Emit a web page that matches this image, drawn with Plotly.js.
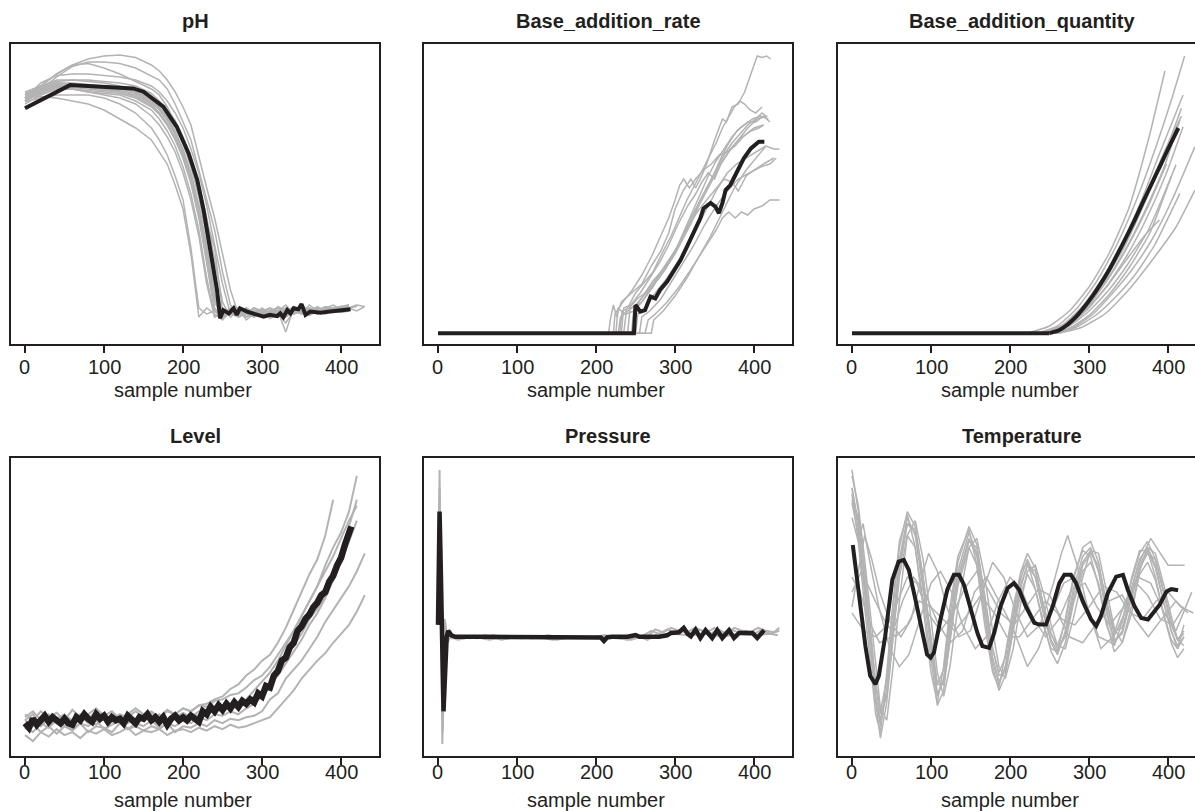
<!DOCTYPE html>
<html>
<head>
<meta charset="utf-8">
<script src="https://cdn.plot.ly/plotly-3.0.1.min.js"></script>
<style>html,body{margin:0;padding:0;overflow:hidden;background:#fff}</style>
</head>
<body>
<div id="chart" style="width:1215px;height:811px"></div>
<script>
// ---------- common ----------
const panelTitles = ['pH','Base_addition_rate','Base_addition_quantity','Level','Pressure','Temperature'];
const xTickVals = [0,100,200,300,400];
const xTickText = ['0','100','200','300','400'];
const xLabel = 'sample number';

// ---------- pH (relative units, 0 = bottom of panel, 100 = top) ----------
const phRef = [[0,78.6],[57,86.3],[137,85.2],[150,84.1],[175,79.1],[192,72.4],[207,63.6],[218,54.7],[226,44.7],[234,32.4],[243,18],[247,8.6],[251,11.3],[258,10.2],[264,11.9],[268,9.7],[272,11.9],[281,10.8],[294,9.7],[302,9.1],[310,9.7],[319,9.3],[323,10.2],[327,8.9],[332,11.3],[336,10.2],[340,11.9],[346,11.6],[350,13.3],[355,9.7],[361,10.8],[374,10.4],[386,10.8],[399,11.3],[412,11.6]];
const phGridX = [0,20,40,60,80,100,120,140,160,170,180,190,200,210,220,230,240,250,260,270,280,290,300,310,320,330,340,350,360,370,380,390,400,410,420,430];
const phBatches = [
 [82,86,90,93,95,96,96.3,95.5,93,91,88,84,79,73,62,52,42,30,18,10,11,9.5,10.5,12,9,10,11.5,12.5,10,11,10.5,11.5,11,12],
 [81,85,89,92.5,94,94,93.5,92,89.5,88,85,80,74,68,58,48,38,24,13,9,10.5,11,9,10,12,11,10,13,9.5,11,12,10.5,11.5,12,11,12.5],
 [82,86,90,93,93.5,92,90,87.5,85,83,79,74,68,62,52,41,32,11,10,12,9,10.5,11,8.5,10,12,11,10,11.5,12,10.5,11,12],
 [82.4,82.5,82,81,80,78,75,72,68,64,60,53,45,30,9,12,10,8,11,9.5,10,12,9,11,10,7,11,10.5,12,11,10,11.5,12,11],
 [80.8,82,83,83,83,82,80,77,72,68,63,56,48,32,12,10,11,9,10.5,12,8,10,11,9.5,11,13,10,11,10,12,11.5,11],
 [81,84,86,86.5,86,86,85.5,85,82,80,77,73,67,59,49,36,20,9,10,11,9,10,12,10,11,4,12,11,10,11.5,12,11,10.5,11],
 [83,85,86,85.5,85,84.5,84,83,80,77,73,68,62,54,43,28,12,9,10.5,12,10,9,11,10,12.5,11,10,13,11,10.5,12,11.5,12.5,13],
 [82,85,87,87,86.5,86,85.5,84,81,79,76,71,65,57,46,32,16,9,11,10,12,9.5,10,11,9,12,10,11,12,10,11,12,11.5,12,12.5],
 [84,86,87.5,88,87.5,87,86,84.5,81.5,79,75.5,71,64,55,43,28,11,9,10,12,10,9,11,12,10,9,12,11,10.5,11,12,11,11.5],
 [80,83,85,85,84,83.5,83,81,78,75,71,66,59,50,38,22,9,11,10,9,10.5,12,10,11,9,11.5,12,10,11,12,10.5,11,12],
 [82.5,84.5,86,86,85.5,85,85,84.5,82.5,80.5,78,74.5,69,62,53,42,28,14,9,11,10,12,9.5,11,10,12,11,13,10,11,12,11,12,13],
 [83,86,88,88,88,87.5,87,86,83.5,81,78,74,68,61,50,37,22,10,11,9,10,12,11,10,9,11,12,10.5,13,11,12,11,12.5,12,13,12.5],
 [81.5,84,85.5,85,84,83,82,80,76,73,69,64,57,48,36,20,9,10,12,11,9,10,11.5,10,12,9,11,10,11,12.5,11,12],
 [82,87,89.5,90,90,89.5,89,88,86,84,81,77,72,65,57,46,33,20,10,11,12,10,9.5,11,10,12,11,10.5,12,11,12,13,11.5,12,13],
 [82,85,86.5,86,85.5,85,84.5,83.5,80.5,78,74.5,70,63.5,55,44,30,14,9,11,10,12,10.5,9.5,11,12,10,11,12,10.5,11,12,11.5,12,12.5],
 [83.5,85.5,87,86.5,86,85.5,85,84,81,78.5,75,70.5,64.5,56.5,46,33,17,9,10.5,12,9,11,10,12,11,10,12.5,11,10,12,11,12,12.5,13],
 [81,83.5,85,85,84.5,84,83.5,82,79,76.5,73,68.5,62,53.5,42,27,11,9.5,11,10,12,9,10.5,11,12,10,11.5,12,11,10,12,11],
 [82,84.5,86,86,85.5,85,84,82.5,79.5,77,73.5,69,63,55,45,31,15,9,10,11.5,10,12,11,9.5,11,12,10.5,11,12,11,12.5,12,11.5]
];

// ---------- Base_addition_rate ----------
const barRef = [[0,3.6],[248,3.6],[250,13],[256,10.8],[262,11.3],[269,15.8],[275,15.2],[281,18],[290,20.8],[298,24],[307,28],[315,32.4],[324,37.4],[332,41.9],[336,45.2],[345,47],[351,45.8],[355.5,43.6],[360,47],[364,51.3],[370,53],[379,58],[387,61.9],[396,65.2],[406,67.4],[413,67.4]];
const barBatches = [
 [[0,3.6],[216,3.6],[218,8],[222,13],[226,9],[232,14],[245,17],[258,20],[270,26],[282,31],[292,37],[300,45],[310,51],[320,55],[326,52],[332,55],[340,60],[350,68],[360,75],[365,74],[372,79],[380,80],[388,84],[395,89],[400,93],[404,96],[410,95.5],[416,96],[421,95]],
 [[0,3.6],[225,3.6],[228,12],[236,10],[250,17],[262,21],[272,24],[285,31],[295,36],[305,42],[315,48],[325,53],[335,58],[345,63],[352,67],[360,72],[368,76],[375,79],[382,81],[388,80],[395,78],[402,77],[410,79]],
 [[0,3.6],[230,3.6],[233,11],[242,12],[252,15],[262,17],[272,21],[282,24],[292,28],[302,32],[312,37],[322,42],[332,48],[342,53],[352,58],[362,63],[372,67],[382,70],[392,73],[402,75],[410,77],[415,76]],
 [[0,3.6],[235,3.6],[238,10],[248,11],[258,14],[268,18],[278,22],[288,25],[298,30],[308,35],[318,41],[328,46],[338,51],[348,56],[358,62],[368,67],[378,71],[388,73],[398,75],[408,76],[418,75]],
 [[0,3.6],[240,3.6],[243,12],[252,13],[262,17],[272,20],[282,24],[292,27],[302,32],[312,38],[322,44],[332,50],[342,56],[352,61],[362,65],[372,69],[382,72],[392,74],[402,74],[412,76],[420,74]],
 [[0,3.6],[228,3.6],[231,9],[240,11],[250,13],[260,16],[270,19],[280,22],[290,26],[300,30],[310,35],[320,40],[330,46],[340,51],[350,56],[360,61],[370,65],[380,68],[390,70],[400,72],[412,73]],
 [[0,3.6],[250,3.6],[253,10],[262,12],[275,17],[290,22],[305,28],[318,34],[330,40],[342,46],[354,52],[366,57],[378,60],[390,62],[402,64],[415,66],[425,65],[432,65]],
 [[0,3.6],[262,3.6],[266,8],[275,10],[290,14],[305,19],[318,24],[330,29],[342,34],[352,38],[360,42],[368,44],[376,42],[384,44],[392,43],[400,45],[410,46],[420,48],[432,48]],
 [[0,3.6],[255,3.6],[258,9],[268,11],[282,15],[296,21],[310,27],[324,33],[338,40],[352,46],[366,51],[380,55],[394,57],[408,59],[420,60],[428,62]],
 [[0,3.6],[245,3.6],[248,12],[258,14],[272,19],[286,25],[300,31],[314,38],[328,44],[340,48],[352,52],[362,55],[372,54],[380,51],[390,56],[400,58],[412,60],[425,62]],
 [[0,3.6],[270,3.6],[273,8],[285,11],[300,16],[315,22],[330,29],[345,36],[360,44],[375,52],[390,58],[402,62],[415,66]],
 [[0,3.6],[232,3.6],[235,12],[244,13],[256,17],[268,22],[280,27],[292,33],[304,40],[316,46],[326,50],[334,54],[342,57],[350,55],[358,60],[368,64],[380,68],[392,72],[404,75],[417,76]],
 [[0,3.6],[222,3.6],[224,10],[234,14],[246,18],[258,23],[270,29],[282,36],[292,42],[300,48],[306,53],[311,55],[318,52],[326,55],[336,58],[346,60],[356,63],[366,64],[376,66],[386,69],[396,71],[406,72],[412,73]]
];

// ---------- Base_addition_quantity ----------
const baqRef = [[0,3.6],[250,3.6],[262,4.6],[273,6.5],[284,9.2],[294,12.3],[305,16.2],[315,20.2],[326,25],[336,30],[347,35.6],[358,41.5],[368,47.2],[379,53.3],[390,59.4],[400,65],[413,72]];
const baqBatches = [
 [[0,3.6],[222,3.6],[250,6],[275,11],[300,19],[325,30],[350,45],[375,68],[396,91]],
 [[0,3.6],[235,3.6],[260,6],[285,12],[310,21],[335,33],[360,48],[385,66],[405,82],[421,96]],
 [[0,3.6],[240,3.6],[265,6],[290,12],[315,21],[340,32],[365,47],[390,64],[419,83]],
 [[0,3.6],[242,3.6],[267,6],[292,12],[317,20.5],[342,31],[367,45],[392,61],[417,78.6]],
 [[0,3.6],[245,3.6],[270,6],[295,12],[320,20.5],[345,31],[370,44],[395,59],[415,74.7]],
 [[0,3.6],[248,3.6],[273,6],[298,11.5],[323,19.5],[348,29.5],[373,42],[398,57],[419,72.4]],
 [[0,3.6],[255,3.6],[280,5.5],[305,10],[330,17],[355,25],[380,35],[405,48],[434,65.8]],
 [[0,3.6],[250,3.6],[275,6],[300,11],[325,18],[350,27],[375,38],[395,50],[410,59.7]],
 [[0,3.6],[252,3.6],[277,5.5],[302,10],[327,17],[352,26],[377,37],[404,55.8]],
 [[0,3.6],[258,3.6],[283,5.5],[308,9.5],[333,15.5],[358,23],[383,33],[415,50.2]],
 [[0,3.6],[262,3.6],[290,5.5],[320,10],[350,18],[380,28],[410,39],[434,51.3]],
 [[0,3.6],[250,3.6],[275,6.5],[300,12.5],[325,20],[350,29],[370,36],[389,41.3]],
 [[0,3.6],[245,3.6],[270,6.5],[295,12.5],[320,21.5],[345,33],[370,48],[395,64],[417,76]],
 [[0,3.6],[240,3.6],[265,6],[290,12],[315,20.5],[340,31.5],[365,45],[385,57],[404,68]],
 [[0,3.6],[250,3.6],[275,7],[300,13],[325,22],[350,33],[375,46],[398,60]]
];

// ---------- Level ----------
const levelRefX = [0,5,10,15,20,25,30,35,40,45,50,55,60,65,70,75,80,85,90,95,100,105,110,115,120,125,130,135,140,145,150,155,160,165,170,175,180,185,190,195,200,205,210,215,220,225,230,235,240,245,250,255,260,265,270,275,280,285,290,295,300,305,310,315,320,325,330,335,340,345,350,355,360,365,370,375,380,385,390,395,400,405,410,413];
const levelRefY = [11,9.5,12.5,10.5,12,13.5,11.5,13,12,11,12.5,11,10.5,13,12,14,12.5,11.5,14,12.5,13.5,11.5,13,12,12.5,11,13.5,12,11,13,12.5,14,12,13,11.5,13,10.5,12.5,13.5,12,13,12,13.5,12.5,11.5,15,14,16.5,15,17,15.5,17.5,16,18,16.5,18.5,17.5,19,18,21,20,23.5,23,27,28.5,32,33,36.5,38,42,43.5,46,47.5,50,51.5,54,55,58.5,60.5,64,66.5,71,74.5,77];
const levelGridX = [0,10,20,30,40,50,60,70,80,90,100,110,120,130,140,150,160,170,180,190,200,210,220,230,240,250,260,270,280,290,300,310,320,330,340,350,360,370,380,390,400,410,420,430];
const levelBatches = [
 [13,15,12,14,11,13.5,12,14,12.5,15,13,12,14,13,15,13,14.5,13,15,14,16,15,17,17.5,19,20,22.5,24,27,29,32,34,38,43,49,55,61,66,74,86],
 [12,14,10,12.5,13,10,12,13.5,11,12,14,11.5,13,12,10.5,13,12,14,12,13,14.5,13,15,14,16,15,17,16,19,22,25,28,32,37,42,47,52,57,64,70,75,82,94],
 [10,8,11,9.5,12,10,8.5,11,10,12,9,10.5,12,9,11,10,12,9.5,11,10,12,11,13,12,14,13.5,15,14,16,17.5,20,23,28,33,37,41,46,49.5,54,61,69,77,86],
 [9,11,8,10,7.5,10,9,11,8,10,9.5,8,11,9,10,8.5,10,9,11,8,10,9.5,11,10,12,11,12.5,12,13,13.5,15,19,21,26,29,32,36,40,45,49,53,57,62,68],
 [7,5,8,6.5,9,7,8,6,8.5,7.5,9,7,8,9.5,7,8.5,8,9,7,8.5,9,8,9.5,8.5,10,9,10.5,9.5,10,11,12,13,16,19,22,26,29,32,34.5,38,41,44,48.5,54],
 [12,10,13,11,12.5,14,11,13,12,10.5,13,12,14,11,12.5,13,11.5,13.5,12,14,12.5,14,13.5,15,16,15.5,17,17.5,18,20,21,24,27,31,35,39,44,48,53,59,65,72,79],
 [14,12,15,13,14.5,12,15.5,13,14,16,13.5,15,12.5,14,16,14,15,13,15.5,14,16,15,17,16.5,18.5,19,20.5,21,23,25.5,27,30,34,38,42,47,52,57,62,67,73,79,84]
];

// ---------- Pressure ----------
const presRef = [[0,44],[2,82],[3,70],[7,15],[11,40],[13,42],[17,40.5],[22,40],[60,40],[100,40],[140,40],[180,40],[200,40],[206,39.8],[210,38.6],[214,39.8],[220,40],[240,40],[250,40.6],[255,40],[280,40],[290,40.5],[295,41.3],[305,41.5],[311,43],[316,41],[320,40.2],[326,42.4],[332,39.6],[338.6,42.2],[347,39.6],[353.4,42.2],[359.8,39.6],[368.3,42.2],[374.6,39.6],[381,41.3],[398,41.3],[404,39.6],[412.7,42.2]];
const presBatches = [
 [[0,44],[2,96],[3.5,60],[5.5,4],[8.5,46],[11,38],[14,41],[18,39.5],[25,40],[40,39.5],[60,40.5],[80,39],[100,40],[120,39.5],[140,40.5],[160,39.5],[180,40],[200,39.5],[220,40],[240,39],[260,40.5],[270,42],[280,41],[290,42.5],[300,41.5],[310,43],[320,41],[330,42.5],[340,41.5],[350,43],[360,41],[370,42.5],[380,41.5],[390,42],[400,41],[410,42.5],[420,41],[432,42]],
 [[0,44],[2,90],[4,55],[6,8],[9,45],[12,39],[15,40.5],[20,39.5],[30,40],[50,39.5],[70,40.5],[90,39.5],[110,40],[130,40],[150,39],[170,40],[190,39.5],[210,40.5],[230,40],[250,39.5],[265,40],[275,42.5],[285,41.5],[295,43],[305,42],[315,41.5],[325,43],[335,42],[345,41],[355,42.5],[365,41],[375,43],[385,42],[395,41.5],[405,43],[415,42],[425,41.5],[432,43]],
 [[0,44],[2,85],[4,45],[6,10],[9,43],[12,38],[16,40],[25,39],[45,40],[65,39],[85,40],[105,39.5],[125,40],[145,39],[165,40],[185,39.5],[205,40],[225,39.5],[245,39],[255,40],[265,39],[275,40.5],[285,40],[295,41],[320,40.5],[340,41],[360,40],[380,41],[400,40.5],[420,41],[430,40.5]]
];

// ---------- Temperature ----------
const tempRef = [[1,70.8],[8.5,54.7],[17,36.9],[23,26.9],[29.6,24.1],[34,26.9],[42,40.2],[51,59.1],[59,65.2],[65.6,65.8],[72,62.4],[80.4,52.4],[89,41.3],[95,34.1],[99.5,33],[103.7,34.7],[112,45.8],[120.6,55.8],[129,60.8],[135.4,60.8],[141.8,57.4],[150,49.1],[158.7,41.3],[165,36.9],[173.5,36.3],[180,41.3],[188,50.2],[196.8,56.3],[205,58],[211.6,55.8],[220,50.2],[230.7,44.7],[237,44.1],[245.5,44.1],[254,50.2],[262.4,58],[268.8,60.8],[277,60.8],[283.6,58],[292,51.9],[302.6,45.8],[309,43.6],[315,46.9],[323.8,54.7],[334.4,60.2],[342.9,60.8],[349,55.8],[357.7,50.2],[366,46.3],[374.6,45.8],[381,48],[389.4,50.8],[398,55.2],[404,56],[412.7,55.6]];
const tempBundleX = [0,8,16,24,30,36,44,52,60,70,80,90,100,108,116,124,134,148,158,168,178,186,194,204,214,222,232,242,252,260,270,280,292,302,312,322,332,342,354,364,374,384,394,404,412,420];
const tempBundle = [
 [90,78,58,35,20,10,22,45,66,80,74,56,35,20,26,44,62,75,68,50,32,24,30,46,60,66,60,48,38,34,42,56,67,70,62,48,38,42,56,66,70,64,52,42,36,40],
 [86,80,62,40,24,14,20,40,62,78,76,60,40,24,24,38,58,72,70,54,36,27,28,42,57,64,62,51,41,36,40,52,64,68,64,52,42,43,53,63,68,66,56,45,39,41],
 [94,84,66,46,30,16,12,30,52,74,79,66,46,28,20,30,50,70,73,60,42,30,26,36,52,62,64,55,44,37,36,46,60,69,68,56,43,38,48,62,70,68,58,47,39,37],
 [88,72,50,28,14,8,28,52,72,81,70,50,28,18,30,50,67,76,64,44,28,23,34,50,62,65,56,44,36,35,46,60,69,67,57,44,37,45,60,69,69,60,48,39,36,44],
 [85,74,55,33,18,6,18,40,60,74,70,52,32,17,22,40,57,70,64,47,30,22,27,42,55,61,56,45,35,31,38,51,62,65,58,45,35,38,51,61,65,59,48,38,33,36],
 [96,82,62,40,24,15,26,50,70,82,77,60,38,24,29,47,65,77,71,53,36,28,33,48,62,68,63,51,41,37,45,59,70,72,65,51,41,45,59,68,72,66,55,44,39,42],
 [90,76,56,34,20,12,22,44,64,78,75,58,37,21,25,42,60,73,67,50,33,25,29,44,58,64,60,49,39,35,41,54,65,69,62,49,39,41,54,64,69,63,52,42,37,40]
];
const tempOthers = [
 [[0,50],[8,62],[16,74],[25,66],[35,55],[48,45],[62,40],[75,46],[88,60],[97,68],[108,62],[120,50],[135,40],[150,42],[165,55],[178,65],[192,60],[208,48],[222,40],[238,44],[255,58],[265,68],[273,74],[285,64],[298,50],[312,40],[328,38],[345,48],[362,64],[378,73],[390,68],[400,64],[421,64]],
 [[0,60],[10,55],[22,45],[35,38],[50,40],[64,52],[78,60],[92,55],[108,45],[124,38],[140,42],[155,55],[170,60],[186,52],[202,44],[222,30],[236,36],[252,48],[268,58],[282,60],[298,50],[315,36],[330,40],[346,52],[362,60],[378,58],[395,48],[410,42],[430,55]],
 [[0,48],[15,42],[30,40],[45,44],[58,52],[70,60],[82,58],[96,48],[112,42],[128,48],[142,56],[158,62],[172,56],[188,48],[205,44],[220,50],[236,56],[250,54],[265,46],[282,44],[300,50],[318,57],[335,55],[352,48],[368,46],[385,52],[400,55],[416,50],[432,48]],
 [[0,55],[12,62],[26,54],[40,46],[55,40],[70,44],[85,52],[100,50],[115,46],[130,42],[148,48],[163,54],[180,48],[196,40],[212,40],[228,46],[245,52],[260,48],[275,40],[292,38],[308,44],[325,52],[342,54],[358,46],[375,40],[392,46],[410,52],[425,48]],
 [[0,80],[8,72],[14,78],[22,66],[34,50],[48,36],[60,30],[72,34],[85,45],[100,58],[112,62],[126,55],[140,44],[156,36],[170,40],[185,52],[200,60],[214,56],[230,46],[245,40],[262,46],[278,56],[295,58],[310,50],[326,44],[344,50],[360,58],[374,54],[390,46],[406,44],[420,50]]
];

// ---------- build ----------
const W = 1215, H = 811;
const FONT = 'Liberation Sans, Arial, Helvetica, sans-serif';
const INK = '#231f20';
const GREY = '#b3b3b3';
// panel boxes in pixels: left, top, right, bottom
const boxes = [[11,44,379,344],[424,44,792,344],[838,44,1206,344],[11,458,379,756],[424,458,792,756],[838,458,1206,756]];
const titleY = [21,21,21,436,436,436];
const tickLabelY = [367,367,367,772,772,772];
const labelY = [390,390,390,800,800,800];

const traces = [];
function ax(i){ return i === 0 ? '' : String(i+1); }
function addLine(i, x, y, color, width, shape){
  const ln = {color:color, width:width, shape:shape || 'linear'};
  if (shape === 'spline') ln.smoothing = 0.5;
  traces.push({type:'scatter', mode:'lines', x:x, y:y, xaxis:'x'+ax(i), yaxis:'y'+ax(i),
    line:ln, hoverinfo:'skip', showlegend:false});
}
function addPairs(i, pairs, color, width, shape){
  addLine(i, pairs.map(p=>p[0]), pairs.map(p=>p[1]), color, width, shape);
}
// flat start drawn straight, curved part smoothed
function addKneeCurve(i, pairs, color, width){
  addPairs(i, pairs.slice(0, 2), color, width);
  addPairs(i, pairs.slice(1), color, width, 'spline');
}

// pH
phBatches.forEach(y => addLine(0, phGridX.slice(0, y.length), y, GREY, 1.5));
addPairs(0, phRef, INK, 4);
// base addition rate
barBatches.forEach(p => addPairs(1, p, GREY, 1.5));
addPairs(1, barRef, INK, 4);
// base addition quantity
baqBatches.forEach(p => addKneeCurve(2, p, GREY, 1.5));
addKneeCurve(2, baqRef, INK, 4);
// level
levelBatches.forEach(y => addLine(3, levelGridX.slice(0, y.length), y, GREY, 2));
addLine(3, levelRefX, levelRefY, INK, 6.5);
// pressure
presBatches.forEach(p => addPairs(4, p, GREY, 2));
addPairs(4, presRef, INK, 4.5);
// temperature
tempOthers.forEach(p => addPairs(5, p, GREY, 1.5));
tempBundle.forEach(y => addLine(5, tempBundleX.slice(0, y.length), y, GREY, 1.5));
addPairs(5, tempRef, INK, 4);

const layout = {
  width: W, height: H,
  margin: {l:0, r:0, t:0, b:0},
  paper_bgcolor: '#ffffff', plot_bgcolor: '#ffffff',
  showlegend: false,
  font: {family: FONT, color: INK},
  annotations: []
};

boxes.forEach((b, i) => {
  const k = ax(i);
  layout['xaxis'+k] = {
    domain: [b[0]/W, b[2]/W], anchor: 'y'+k, range: [-17.7, 448],
    tickmode: 'array', tickvals: xTickVals, ticktext: xTickText,
    ticks: 'outside', ticklen: 7, tickwidth: 1.5, tickcolor: INK,
    showticklabels: false,
    showline: true, linewidth: 2, linecolor: INK, mirror: true,
    showgrid: false, zeroline: false, fixedrange: true
  };
  layout['yaxis'+k] = {
    domain: [1 - b[3]/H, 1 - b[1]/H], anchor: 'x'+k, range: [0, 100],
    showline: true, linewidth: 2, linecolor: INK, mirror: true,
    showgrid: false, zeroline: false, showticklabels: false, ticks: '', fixedrange: true
  };
  const cx = (b[0] + b[2]) / 2 / W;
  layout.annotations.push({
    text: '<b>' + panelTitles[i] + '</b>', xref: 'paper', yref: 'paper',
    x: cx, y: 1 - titleY[i]/H, xanchor: 'center', yanchor: 'middle', showarrow: false,
    font: {family: FONT, size: 20, color: INK}
  });
  xTickVals.forEach((v, j) => {
    layout.annotations.push({
      text: xTickText[j], xref: 'x'+k, yref: 'paper',
      x: v, y: 1 - tickLabelY[i]/H, xanchor: 'center', yanchor: 'middle', showarrow: false,
      font: {family: FONT, size: 20, color: INK}
    });
  });
  layout.annotations.push({
    text: xLabel, xref: 'x'+k, yref: 'paper',
    x: 200, y: 1 - labelY[i]/H, xanchor: 'center', yanchor: 'middle', showarrow: false,
    font: {family: FONT, size: 20, color: INK}
  });
});

Plotly.newPlot('chart', traces, layout, {staticPlot: true, displayModeBar: false});
</script>
</body>
</html>
